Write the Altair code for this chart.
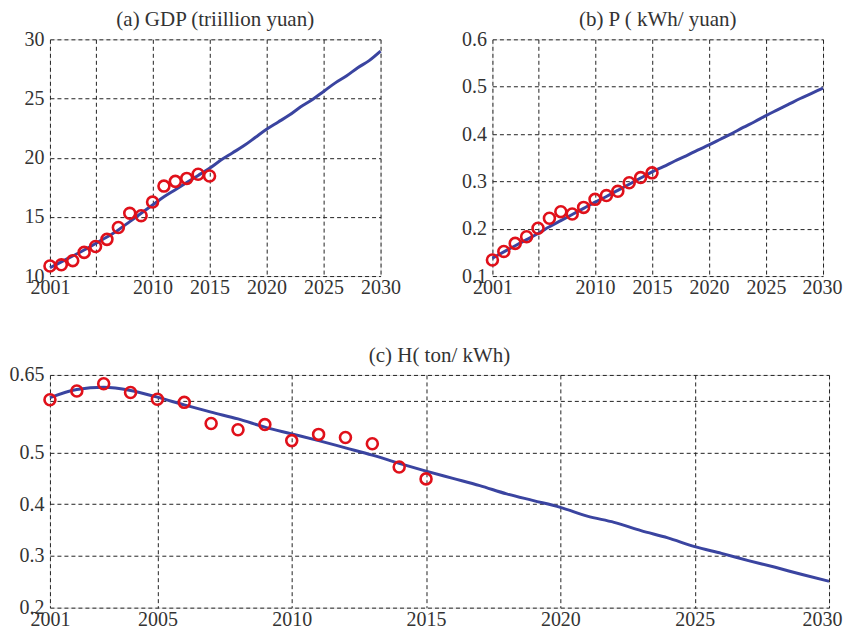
import altair as alt
import pandas as pd

# ---- data -------------------------------------------------------------
fit_years = list(range(2001, 2031))
obs_years = list(range(2001, 2016))

gdp_fit = [10.7, 11.2, 11.7, 12.2, 12.75, 13.3, 13.9, 14.6, 15.3, 16.0,
           16.7, 17.3, 17.9, 18.5, 19.1, 19.8, 20.4, 21.0, 21.7, 22.4,
           23.0, 23.6, 24.3, 24.9, 25.6, 26.3, 26.9, 27.6, 28.2, 29.0]
gdp_obs = [10.85, 10.95, 11.3, 12.0, 12.5, 13.1, 14.1, 15.3, 15.1, 16.25,
           17.6, 18.0, 18.25, 18.6, 18.45]

p_fit = [0.138, 0.151, 0.164, 0.177, 0.190, 0.204, 0.217, 0.230, 0.243, 0.256,
         0.268, 0.281, 0.294, 0.307, 0.320, 0.331, 0.343, 0.354, 0.366, 0.377,
         0.389, 0.401, 0.414, 0.426, 0.439, 0.451, 0.463, 0.475, 0.486, 0.497]
p_obs = [0.134, 0.152, 0.169, 0.183, 0.201, 0.222, 0.236, 0.231, 0.245, 0.262,
         0.270, 0.279, 0.297, 0.308, 0.318]

h_fit = [0.606, 0.622, 0.626, 0.620, 0.607, 0.592, 0.578, 0.565, 0.549, 0.536,
         0.523, 0.509, 0.495, 0.479, 0.464, 0.450, 0.436, 0.420, 0.407, 0.394,
         0.377, 0.365, 0.349, 0.335, 0.318, 0.305, 0.291, 0.278, 0.264, 0.251]
h_obs = [0.602, 0.619, 0.633, 0.616, 0.603, 0.597, 0.556, 0.544, 0.554, 0.523,
         0.535, 0.529, 0.517, 0.472, 0.449]

x_ticks = [2001, 2005, 2010, 2015, 2020, 2025, 2030]
gdp_ticks = [10, 15, 20, 25, 30]
p_ticks = [0.1, 0.2, 0.3, 0.4, 0.5, 0.6]
h_ticks = [0.2, 0.3, 0.4, 0.5, 0.6, 0.65]

titles = ["(a) GDP (triillion yuan)", "(b) P ( kWh/ yuan)", "(c) H( ton/ kWh)"]

# ---- styling ------------------------------------------------------------
FONT = "Liberation Serif"
LINE_COLOR = "#3a44a0"
RED = "#e0101a"
TXT = "#333333"
LFS = 20
TFS = 21


def panel(fit, obs, title, yticks, ydomain, yfmt, hide_x, hide_y, w, h, xpad, last_shift):
    fit_df = pd.DataFrame({"year": fit_years, "value": fit})
    obs_df = pd.DataFrame({"year": obs_years, "value": obs})

    if hide_x is None:
        xexpr = "format(datum.value, 'd')"
    else:
        xexpr = f"datum.value == {hide_x} ? '' : format(datum.value, 'd')"
    if hide_y is None:
        yexpr = f"format(datum.value, '{yfmt}')"
    else:
        yexpr = f"abs(datum.value - {hide_y}) < 1e-9 ? '' : format(datum.value, '{yfmt}')"

    x = alt.X("year:Q",
              scale=alt.Scale(domain=[2001, 2030], nice=False, zero=False),
              axis=alt.Axis(values=x_ticks, labelExpr=xexpr, title=None,
                            grid=True, gridDash=[4, 3], gridColor="#222222",
                            gridWidth=1, ticks=False, domain=False,
                            labelFont=FONT, labelFontSize=LFS, labelColor=TXT,
                            labelPadding=xpad, labelOverlap=False, labelFlush=False,
                            labelOffset={"condition": {"test": "datum.value == 2030",
                                                       "value": last_shift},
                                         "value": 0}))
    y = alt.Y("value:Q",
              scale=alt.Scale(domain=ydomain, nice=False, zero=False),
              axis=alt.Axis(values=yticks, labelExpr=yexpr, title=None,
                            grid=True, gridDash=[4, 3], gridColor="#222222",
                            gridWidth=1, ticks=False, domain=False,
                            labelFont=FONT, labelFontSize=LFS, labelColor=TXT,
                            labelPadding=6, labelOverlap=False, labelFlush=False,
                            minExtent=41, maxExtent=41))

    line = alt.Chart(fit_df).mark_line(color=LINE_COLOR, strokeWidth=3,
                                       interpolate="monotone").encode(x=x, y=y)
    pts = alt.Chart(obs_df).mark_point(shape="circle", filled=False, color=RED,
                                       strokeWidth=2.6, size=120, opacity=1
                                       ).encode(x=x, y=y)
    return alt.layer(line, pts).properties(
        width=w, height=h,
        title=alt.TitleParams(title, font=FONT, fontSize=TFS, fontWeight="normal",
                              color=TXT, offset=-1, anchor="middle"))


a = panel(gdp_fit, gdp_obs, titles[0], gdp_ticks, [10, 30], "d", 2005, None, 331, 237, 1, 0)
b = panel(p_fit, p_obs, titles[1], p_ticks, [0.1, 0.6], ".1f", 2005, None, 331, 237, 1, -1)
c = panel(h_fit, h_obs, titles[2], h_ticks, [0.2, 0.65], ".2~f", None, 0.6, 780, 233, 2, -7)

top = alt.hconcat(a, b, spacing=112, bounds="flush")
chart = alt.vconcat(top, c, spacing=46).properties(
    padding={"left": 0, "top": 0, "right": 0, "bottom": 0}
).configure_view(stroke="#444444", strokeWidth=1).configure(background="white")

chart.save("out.html", embed_options={"renderer": "svg", "actions": False})
